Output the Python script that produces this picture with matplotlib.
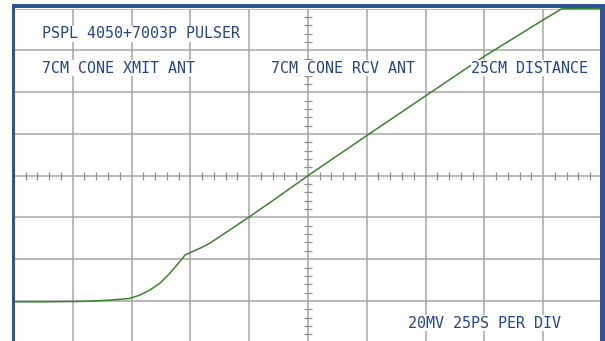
import numpy as np
import matplotlib
matplotlib.use("Agg")
import matplotlib.pyplot as plt
from matplotlib.patches import Rectangle

# Screen: 10 horizontal x 8 vertical divisions
n_xdiv = 10
n_ydiv = 8

# Step response trace (divisions)
trace_x = [0.0, 0.6, 1.2, 1.63, 1.97, 2.14, 2.31, 2.48, 2.65, 2.82, 2.91, 3.0,
           3.16, 3.33, 3.5, 4.0, 4.5, 5.0, 6.0, 7.0, 8.0, 9.0, 9.32, 10.0]
trace_y = [0.98, 0.98, 0.99, 1.02, 1.06, 1.14, 1.26, 1.42, 1.66, 1.94, 2.1, 2.16,
           2.26, 2.38, 2.54, 3.01, 3.5, 4.0, 4.96, 5.91, 6.86, 7.73, 8.0, 8.0]

# Screen annotations: (text, x px, baseline y px)
labels = ["PSPL 4050+7003P PULSER", "7CM CONE XMIT ANT", "7CM CONE RCV ANT",
          "25CM DISTANCE", "20MV 25PS PER DIV"]
label_x = [42.0, 42.5, 271.0, 471.0, 407.5]
label_y = [38.5, 72.8, 72.8, 72.8, 327.5]

W, H = 605, 341
fig = plt.figure(figsize=(W / 100, H / 100), dpi=100)
fig.patch.set_facecolor("white")

left, right, top, bottom = 13.9, 601.9, 8.7, 342.7
ax = fig.add_axes([left / W, (H - bottom) / H, (right - left) / W, (bottom - top) / H])
ax.set_xlim(0, n_xdiv)
ax.set_ylim(0, n_ydiv)
for s in ax.spines.values():
    s.set_visible(False)
ax.set_xticks([])
ax.set_yticks([])

grid_color = "#a6a6a6"
for i in range(n_xdiv + 1):
    ax.axvline(i, color=grid_color, lw=1.1, zorder=1)
for j in range(n_ydiv + 1):
    ax.axhline(j, color=grid_color, lw=1.1, zorder=1)

# Minor ticks along the centre cross
cx, cy = n_xdiv / 2, n_ydiv / 2
mx = [v for v in np.arange(0, n_xdiv + 1e-9, 0.2) if abs(v - round(v)) > 1e-6]
my = [v for v in np.arange(0, n_ydiv + 1e-9, 0.2) if abs(v - round(v)) > 1e-6]
ax.plot(mx, [cy] * len(mx), ls="none", marker="|", ms=5.5, mew=0.9, color="#909090", zorder=1)
ax.plot([cx] * len(my), my, ls="none", marker="_", ms=5.5, mew=0.9, color="#909090", zorder=1)

ax.plot(trace_x, trace_y, color="#36862a", lw=1.1, zorder=3, clip_on=False)

for t, x, y in zip(labels, label_x, label_y):
    fig.text(x / W, 1 - y / H, t, family="DejaVu Sans Mono", fontsize=10.8,
             color="#22458f", ha="left", va="baseline", zorder=5,
             bbox=dict(facecolor="white", edgecolor="none", pad=0.3))

# Blue bezel on top, left and right
bezel = "#2f5597"
for (x0, y0, x1, y1) in [(12, 3.5, 605, 7.5), (12, 3.5, 15, 341), (600, 3.5, 605, 341)]:
    fig.patches.append(Rectangle((x0 / W, 1 - y1 / H), (x1 - x0) / W, (y1 - y0) / H,
                                 transform=fig.transFigure, facecolor=bezel,
                                 edgecolor="none", zorder=10))

fig.savefig("out.png", dpi=100, facecolor="white")
